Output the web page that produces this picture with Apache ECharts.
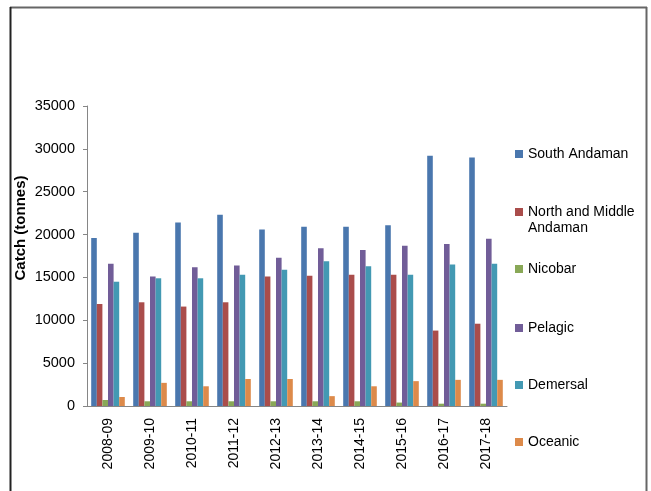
<!DOCTYPE html>
<html>
<head>
<meta charset="utf-8">
<script src="https://cdn.jsdelivr.net/npm/echarts@6/dist/echarts.min.js"></script>
<style>
  html, body { margin: 0; padding: 0; background: #fff; }
  #chart { width: 651px; height: 491px; }
</style>
</head>
<body>
<div id="chart"></div>
<script>
// Marine fish catch (tonnes) by year, region and resource group
const years = ['2008-09', '2009-10', '2010-11', '2011-12', '2012-13',
               '2013-14', '2014-15', '2015-16', '2016-17', '2017-18'];

const southAndaman   = [19600, 20200, 21400, 22300, 20600, 20900, 20900, 21100, 29200, 29000];
const northMiddle    = [11900, 12100, 11600, 12100, 15100, 15200, 15300, 15300, 8800, 9600];
const nicobar        = [700, 550, 550, 550, 550, 550, 550, 400, 270, 270];
const pelagic        = [16600, 15100, 16200, 16400, 17300, 18400, 18200, 18700, 18900, 19500];
const demersal       = [14500, 14900, 14900, 15300, 15900, 16900, 16300, 15300, 16500, 16600];
const oceanic        = [1050, 2700, 2300, 3150, 3150, 1150, 2300, 2900, 3050, 3050];

const yTicks = { min: 0, max: 35000, step: 5000 };

const seriesDefs = [
  { name: 'South Andaman', data: southAndaman, color: '#4a77ae' },
  { name: 'North and Middle Andaman', data: northMiddle, color: '#aa4d4b' },
  { name: 'Nicobar', data: nicobar, color: '#89a857' },
  { name: 'Pelagic', data: pelagic, color: '#715d98' },
  { name: 'Demersal', data: demersal, color: '#4399b3' },
  { name: 'Oceanic', data: oceanic, color: '#dd8a4a' }
];

const FONT = 'Liberation Sans, Arial, sans-serif';

// one legend block per series so each entry sits at its own height;
// the long name wraps, with its second line drawn just below
const legendTops = [147, 205, 262, 321, 378, 435];
const legends = seriesDefs.map((s, i) => ({
  data: [s.name],
  orient: 'vertical',
  left: 515,
  top: legendTops[i],
  padding: 0,
  itemWidth: 8,
  itemHeight: 8,
  icon: 'rect',
  selectedMode: false,
  formatter: s.name === 'North and Middle Andaman' ? 'North and Middle' : '{name}',
  textStyle: { fontFamily: FONT, fontSize: 14, color: '#000' }
}));

const chart = echarts.init(document.getElementById('chart'), null, { renderer: 'canvas' });

chart.setOption({
  backgroundColor: '#fff',
  animation: false,
  textStyle: { fontFamily: FONT },
  grid: { left: 87, right: 144, top: 106, bottom: 85, containLabel: false },
  legend: legends,
  xAxis: {
    type: 'category',
    data: years,
    axisLine: { lineStyle: { color: '#868686', width: 1 } },
    axisTick: { show: false },
    axisLabel: { rotate: 90, margin: 12, fontSize: 14, color: '#000', fontFamily: FONT },
    splitLine: { show: false }
  },
  yAxis: {
    type: 'value',
    min: yTicks.min,
    max: yTicks.max,
    interval: yTicks.step,
    axisLine: { show: true, lineStyle: { color: '#868686', width: 1 } },
    axisTick: { show: true, length: 4, lineStyle: { color: '#868686' } },
    axisLabel: {
      margin: 12,
      fontSize: 14.5,
      color: '#000',
      fontFamily: FONT,
      formatter: v => String(v)
    },
    splitLine: { show: false }
  },
  series: seriesDefs.map(s => ({
    name: s.name,
    type: 'bar',
    data: s.data,
    barGap: '0%',
    barCategoryGap: '20%',
    itemStyle: { color: s.color },
    emphasis: { disabled: true }
  })),
  graphic: [
    {
      type: 'text',
      x: 21,
      y: 228,
      rotation: Math.PI / 2,
      style: {
        text: 'Catch (tonnes)',
        fontSize: 15,
        fontWeight: 'bold',
        fill: '#000',
        fontFamily: FONT,
        align: 'center',
        verticalAlign: 'middle'
      }
    },
    {
      type: 'text',
      x: 528,
      y: 228,
      style: {
        text: 'Andaman',
        fontSize: 14,
        fill: '#000',
        fontFamily: FONT,
        align: 'left',
        verticalAlign: 'middle'
      }
    },
    // frame around the chart area
    { type: 'line', shape: { x1: 10, y1: 7.5, x2: 647, y2: 7.5 }, style: { stroke: '#666', lineWidth: 2 } },
    { type: 'line', shape: { x1: 10.5, y1: 7, x2: 10.5, y2: 491 }, style: { stroke: '#222', lineWidth: 2 } },
    { type: 'line', shape: { x1: 646.5, y1: 7, x2: 646.5, y2: 491 }, style: { stroke: '#666', lineWidth: 2 } }
  ]
});
</script>
</body>
</html>
